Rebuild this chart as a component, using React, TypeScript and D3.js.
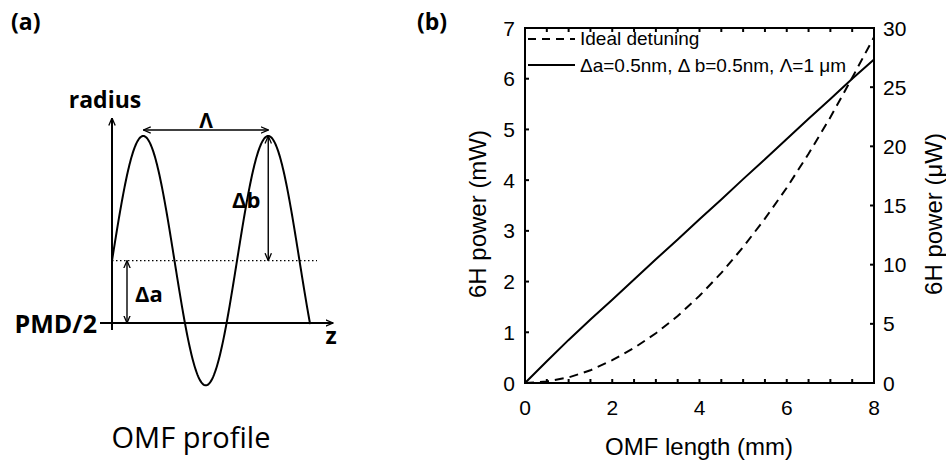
import React from 'react';
import * as d3 from 'd3';

// ---------- Panel (b) data ----------
const lengthMM = [0, 0.5, 1, 1.5, 2, 2.5, 3, 3.5, 4, 4.5, 5, 5.5, 6, 6.5, 7, 7.5, 8];
const idealMW = [0, 0.03, 0.11, 0.25, 0.45, 0.69, 0.98, 1.32, 1.72, 2.17, 2.68, 3.24, 3.85, 4.52, 5.24, 6.02, 6.82];
const sampleMW = [0, 0.43, 0.85, 1.25, 1.64, 2.04, 2.44, 2.83, 3.23, 3.62, 4.02, 4.41, 4.81, 5.21, 5.6, 6.0, 6.38];
const xTickLabels = [0, 2, 4, 6, 8];
const yLeftTicks = [0, 1, 2, 3, 4, 5, 6, 7];
const yRightTicks = [0, 5, 10, 15, 20, 25, 30];
const legendLabels = ['Ideal detuning', '\u0394a=0.5nm, \u0394 b=0.5nm, \u039B=1 \u03BCm'];

// ---------- Panel (a) schematic parameters ----------
const profilePeriod = [1];        // Λ
const profileDeltaA = [0.5];      // Δa
const profileDeltaB = [1];        // Δb
const profileZEnd = [1.585];

const SANS_A = '"Open Sans", "Noto Sans", sans-serif';
const SANS_B = '"Liberation Sans", Arial, sans-serif';

export default function App() {
  // panel (b) scales
  const x = d3.scaleLinear().domain([0, 8]).range([525, 874]);
  const yL = d3.scaleLinear().domain([0, 7]).range([383, 28]);
  const yR = d3.scaleLinear().domain([0, 30]).range([383, 28]);
  const line = d3.line<number>().x((_, i) => x(lengthMM[i])).y((d) => yL(d));
  const minorX = d3.range(0, 8.001, 0.5);

  // panel (a) scales
  const L = profilePeriod[0];
  const dA = profileDeltaA[0];
  const dB = profileDeltaB[0];
  const zs = d3.scaleLinear().domain([0, L]).range([112, 237]);
  const rs = d3.scaleLinear().domain([0, dA + dB]).range([323, 136]);
  const zPts = d3.range(0, profileZEnd[0] + 1e-9, 0.005);
  const profile = d3
    .line<number>()
    .x((z) => zs(z))
    .y((z) => rs(dA + dB * Math.sin((2 * Math.PI * z) / L)))
    .curve(d3.curveLinear);

  const peak1 = L / 4;
  const peak2 = L + L / 4;

  return (
    <svg width={946} height={462} style={{ position: 'absolute', left: 0, top: 0, background: '#fff' }}>
      <defs>
        <marker id="arr" viewBox="0 0 8 8" refX={7.5} refY={4} markerWidth={8} markerHeight={8} markerUnits="userSpaceOnUse" orient="auto-start-reverse">
          <path d="M0,0.8 L7.5,4 L0,7.2" fill="none" stroke="#000" strokeWidth={1.3} />
        </marker>
      </defs>
      <rect x={0} y={0} width={946} height={462} fill="#fff" />

      {/* ---------------- Panel (a) ---------------- */}
      <g>
        <text x={11} y={30} fontFamily={SANS_A} fontWeight={700} fontSize={23}>(a)</text>
        {/* axes */}
        <line x1={zs(0)} y1={330} x2={zs(0)} y2={118} stroke="#000" strokeWidth={2} markerEnd="url(#arr)" />
        <line x1={100} y1={rs(0)} x2={333} y2={rs(0)} stroke="#000" strokeWidth={2} markerEnd="url(#arr)" />
        {/* mean radius dotted line */}
        <line x1={zs(0)} y1={rs(dA)} x2={317} y2={rs(dA)} stroke="#000" strokeWidth={1.4} strokeDasharray="1.5,2.5" />
        {/* profile */}
        <path d={profile(zPts) || ''} fill="none" stroke="#000" strokeWidth={2} />
        {/* Λ arrow */}
        <line x1={zs(peak1)} y1={130} x2={zs(peak2)} y2={130} stroke="#000" strokeWidth={1.4} markerStart="url(#arr)" markerEnd="url(#arr)" />
        {/* Δb arrow */}
        <line x1={zs(peak2)} y1={rs(dA)} x2={zs(peak2)} y2={rs(dA + dB)} stroke="#000" strokeWidth={1.4} markerStart="url(#arr)" markerEnd="url(#arr)" />
        {/* Δa arrow */}
        <line x1={127} y1={rs(0)} x2={127} y2={rs(dA)} stroke="#000" strokeWidth={1.4} markerStart="url(#arr)" markerEnd="url(#arr)" />
        <text x={105} y={108} textAnchor="middle" fontFamily={SANS_A} fontWeight={700} fontSize={23}>radius</text>
        <text x={206} y={128} textAnchor="middle" fontFamily={SANS_A} fontWeight={700} fontSize={21}>{'\u039B'}</text>
        <text x={232} y={208} fontFamily={SANS_A} fontWeight={700} fontSize={22}>{'\u0394b'}</text>
        <text x={135} y={302} fontFamily={SANS_A} fontWeight={700} fontSize={22}>{'\u0394a'}</text>
        <text x={97} y={333} textAnchor="end" fontFamily={SANS_A} fontWeight={700} fontSize={25}>PMD/2</text>
        <text x={331} y={344} textAnchor="middle" fontFamily={SANS_A} fontWeight={700} fontSize={23}>z</text>
        <text x={191} y={448} textAnchor="middle" fontFamily={SANS_A} fontWeight={400} fontSize={29}>OMF profile</text>
      </g>

      {/* ---------------- Panel (b) ---------------- */}
      <g>
        <text x={417} y={30} fontFamily={SANS_A} fontWeight={700} fontSize={23}>(b)</text>

        {/* data */}
        <path d={line(idealMW) || ''} fill="none" stroke="#000" strokeWidth={2} strokeDasharray="9,6" />
        <path d={line(sampleMW) || ''} fill="none" stroke="#000" strokeWidth={2} />

        {/* frame */}
        <rect x={x(0)} y={yL(7)} width={x(8) - x(0)} height={yL(0) - yL(7)} fill="none" stroke="#000" strokeWidth={2} />

        {/* x ticks (bottom & top) */}
        {minorX.map((v) => (
          <g key={'xt' + v}>
            <line x1={x(v)} x2={x(v)} y1={yL(0)} y2={yL(0) - 4} stroke="#000" strokeWidth={2} />
            <line x1={x(v)} x2={x(v)} y1={yL(7)} y2={yL(7) + 4} stroke="#000" strokeWidth={2} />
          </g>
        ))}
        {xTickLabels.map((v) => (
          <text key={'xl' + v} x={x(v)} y={415} textAnchor="middle" fontFamily={SANS_B} fontSize={21}>{v}</text>
        ))}

        {/* left ticks */}
        {yLeftTicks.map((v) => (
          <g key={'yl' + v}>
            <line x1={x(0)} x2={x(0) + 4} y1={yL(v)} y2={yL(v)} stroke="#000" strokeWidth={2} />
            <text x={515} y={yL(v)} dy="0.36em" textAnchor="end" fontFamily={SANS_B} fontSize={21}>{v}</text>
          </g>
        ))}
        {/* right ticks */}
        {yRightTicks.map((v) => (
          <g key={'yr' + v}>
            <line x1={x(8)} x2={x(8) - 4} y1={yR(v)} y2={yR(v)} stroke="#000" strokeWidth={2} />
            <text x={883} y={yR(v)} dy="0.36em" textAnchor="start" fontFamily={SANS_B} fontSize={21}>{v}</text>
          </g>
        ))}

        {/* axis titles */}
        <text x={699} y={455} textAnchor="middle" fontFamily={SANS_B} fontSize={24}>OMF length (mm)</text>
        <text transform="translate(486,214) rotate(-90)" textAnchor="middle" fontFamily={SANS_B} fontSize={24}>6H power (mW)</text>
        <text transform="translate(942,214) rotate(-90)" textAnchor="middle" fontFamily={SANS_B} fontSize={24}>6H power ({'\u03BC'}W)</text>

        {/* legend */}
        <line x1={528} x2={575} y1={39} y2={39} stroke="#000" strokeWidth={2} strokeDasharray="8,6" />
        <text x={580} y={45} fontFamily={SANS_B} fontSize={19}>{legendLabels[0]}</text>
        <line x1={528} x2={575} y1={65} y2={65} stroke="#000" strokeWidth={2} />
        <text x={580} y={72} fontFamily={SANS_B} fontSize={19}>{legendLabels[1]}</text>
      </g>
    </svg>
  );
}
